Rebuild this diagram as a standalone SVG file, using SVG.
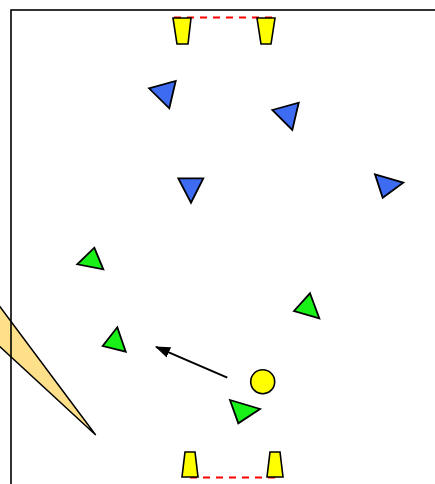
<svg xmlns="http://www.w3.org/2000/svg" width="435" height="484" viewBox="0 0 435 484">
<defs>
<style>
.p{stroke:#000;stroke-width:1.8;stroke-linejoin:miter}
.blue{fill:#3d6cf2}
.green{fill:#18f018}
.cone{fill:#ffff00;stroke:#000;stroke-width:1.6}
.goal{stroke:#f00;stroke-width:2;stroke-dasharray:7,6;fill:none}
</style>
<marker id="ah" markerWidth="15" markerHeight="12" refX="14" refY="6" orient="auto" markerUnits="userSpaceOnUse" viewBox="0 0 15 12">
<path d="M0,0.5 L15,6 L0,11.5 z" fill="#000"/>
</marker>
</defs>
<rect width="435" height="484" fill="#fff"/>
<polygon id="wedge" points="-10,293.3 95.7,435 -10,337.5" fill="#ffe08a" stroke="#000" stroke-width="1.5"/>
<rect id="field" x="11" y="10" width="440" height="500" fill="none" stroke="#000" stroke-width="1.6"/>
<g id="goal-top">
<line class="goal" x1="174" y1="17.5" x2="274" y2="17.5"/>
<polygon class="cone" points="173,18 191,18 188,44 177,44"/>
<polygon class="cone" points="257,18 275,18 271,44 261,44"/>
</g>
<g id="goal-bottom">
<line class="goal" x1="190" y1="477.5" x2="276" y2="477.5"/>
<polygon class="cone" points="185,452 195,452 198,477 182,477"/>
<polygon class="cone" points="270,452 280,452 283,477 267,477"/>
</g>
<g id="blue1"><polygon class="p blue" points="149,88.3 175.7,81 169.3,108.3"/></g>
<g id="blue2"><polygon class="p blue" points="272.3,110 298.7,102.7 292.3,130"/></g>
<g id="blue3"><polygon class="p blue" points="178.3,178.3 203.3,178.3 191,202.7"/></g>
<g id="blue4"><polygon class="p blue" points="375,174.3 403.3,182.7 382.7,197.7"/></g>
<g id="green1"><polygon class="p green" points="94.3,247.7 103.3,269.3 77.3,264.3"/></g>
<g id="green2"><polygon class="p green" points="310,293.3 319.3,318.3 294,311"/></g>
<g id="green3"><polygon class="p green" points="117.3,327.3 125.7,351.7 102.7,346"/></g>
<g id="green4"><polygon class="p green" points="230,400 260,409 238.3,423.3"/></g>
<g id="ball"><circle cx="262.7" cy="381.7" r="12" fill="#ffff00" stroke="#000" stroke-width="1.6"/></g>
<g id="connectors">
<line x1="227.3" y1="377.7" x2="156" y2="346.8" stroke="#000" stroke-width="2" marker-end="url(#ah)"/>
</g>
</svg>
